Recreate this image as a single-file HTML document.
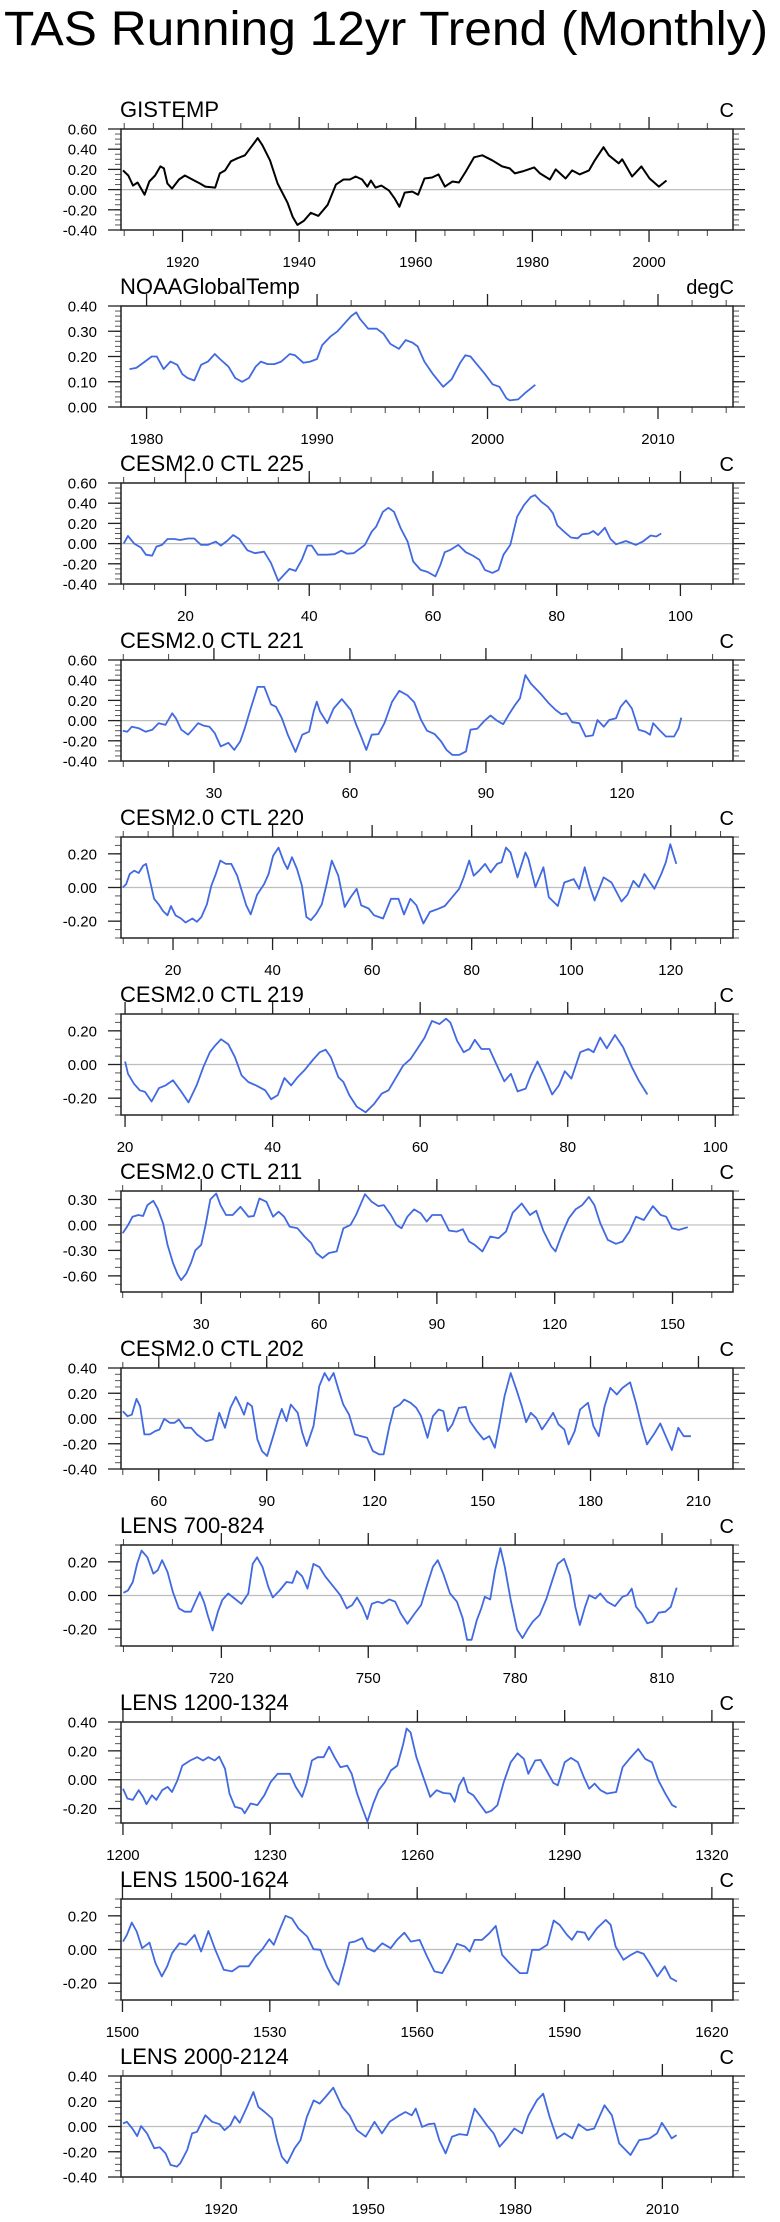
<!DOCTYPE html>
<html><head><meta charset="utf-8">
<style>
html,body{margin:0;padding:0;background:#fff;}
svg{display:block;font-family:"Liberation Sans",Arial,sans-serif;}
</style></head>
<body>
<svg id="chart" width="780" height="2222" viewBox="0 0 780 2222" xmlns="http://www.w3.org/2000/svg">
<text x="4" y="45" font-size="48" textLength="764" lengthAdjust="spacingAndGlyphs" fill="#000">TAS Running 12yr Trend (Monthly)</text>
</svg>
<script>
const p1X=[1909.8,1910.7,1911.5,1912.3,1913.5,1914.3,1915.3,1916.2,1916.8,1917.4,1918.2,1919.4,1920.4,1922.0,1923.0,1923.9,1925.6,1926.4,1927.3,1928.3,1929.4,1930.7,1932.0,1932.9,1933.7,1935.0,1936.3,1938.0,1938.9,1939.7,1940.8,1942.0,1943.3,1944.9,1946.3,1947.6,1948.7,1949.7,1950.8,1951.7,1952.3,1953.1,1954.1,1955.4,1956.4,1957.2,1958.1,1959.4,1960.4,1961.5,1962.8,1963.9,1965.0,1966.3,1967.4,1968.6,1970.0,1971.4,1973.1,1974.8,1976.1,1977.0,1978.3,1980.3,1981.3,1983.0,1984.0,1985.7,1986.8,1988.1,1989.7,1990.7,1992.2,1993.1,1994.8,1995.4,1997.1,1998.7,2000.1,2001.7,2003.0];
const p1Y=[0.19,0.14,0.04,0.07,-0.05,0.08,0.14,0.23,0.21,0.06,0.01,0.10,0.14,0.09,0.06,0.03,0.02,0.16,0.19,0.28,0.31,0.34,0.44,0.51,0.44,0.29,0.06,-0.13,-0.27,-0.35,-0.31,-0.23,-0.26,-0.15,0.05,0.10,0.10,0.13,0.10,0.03,0.09,0.02,0.04,-0.01,-0.09,-0.17,-0.03,-0.02,-0.05,0.11,0.12,0.15,0.03,0.08,0.07,0.18,0.32,0.34,0.29,0.23,0.21,0.16,0.18,0.22,0.16,0.10,0.20,0.11,0.19,0.15,0.19,0.29,0.42,0.34,0.26,0.30,0.13,0.23,0.11,0.03,0.09];
const p2X=[1979.0,1979.4,1979.9,1980.3,1980.6,1981.0,1981.4,1981.8,1982.1,1982.4,1982.8,1983.2,1983.6,1984.0,1984.3,1984.8,1985.2,1985.6,1986.0,1986.4,1986.7,1987.1,1987.5,1987.9,1988.4,1988.7,1989.2,1989.6,1990.0,1990.3,1990.8,1991.2,1991.6,1992.0,1992.3,1992.5,1993.0,1993.5,1993.9,1994.3,1994.8,1995.2,1995.6,1995.9,1996.3,1996.8,1997.4,1997.9,1998.4,1998.7,1999.0,1999.4,1999.8,2000.3,2000.7,2001.1,2001.3,2001.8,2002.2,2002.8];
const p2Y=[0.15,0.155,0.18,0.20,0.20,0.15,0.18,0.167,0.13,0.115,0.105,0.167,0.18,0.21,0.19,0.16,0.115,0.10,0.115,0.16,0.18,0.17,0.17,0.18,0.21,0.205,0.175,0.18,0.19,0.245,0.28,0.30,0.33,0.36,0.375,0.35,0.31,0.31,0.29,0.25,0.23,0.265,0.255,0.24,0.18,0.13,0.08,0.11,0.175,0.205,0.20,0.167,0.135,0.09,0.08,0.035,0.026,0.03,0.055,0.088];
const p3X=[10.0,10.7,11.7,12.8,13.6,14.6,15.3,16.2,17.1,18.2,19.1,20.4,21.4,22.5,23.6,24.9,25.7,26.7,27.7,28.7,30.0,31.2,32.7,33.8,35.0,35.9,36.8,37.8,38.8,39.7,40.4,41.4,42.8,44.1,45.2,46.1,47.2,49.0,50.1,50.8,51.9,52.8,53.7,54.8,55.9,56.8,58.0,59.1,60.4,61.2,61.9,62.8,64.1,65.3,66.4,67.5,68.4,69.6,70.6,71.4,72.5,73.6,74.7,75.8,76.5,77.6,78.6,79.4,80.1,81.2,82.3,83.4,84.1,85.2,85.9,86.7,87.8,88.7,89.6,91.2,92.8,93.9,95.2,96.1,96.9];
const p3Y=[0,0.075,0,-0.04,-0.11,-0.12,-0.03,-0.013,0.046,0.046,0.036,0.05,0.05,-0.013,-0.013,0.02,-0.02,0.026,0.085,0.046,-0.066,-0.095,-0.08,-0.19,-0.37,-0.31,-0.25,-0.27,-0.16,-0.02,-0.02,-0.11,-0.11,-0.105,-0.07,-0.1,-0.095,-0.013,0.118,0.167,0.315,0.354,0.315,0.15,0.02,-0.177,-0.26,-0.28,-0.325,-0.21,-0.085,-0.062,-0.013,-0.085,-0.118,-0.16,-0.26,-0.29,-0.26,-0.11,-0.013,0.265,0.38,0.46,0.48,0.41,0.364,0.3,0.18,0.118,0.06,0.052,0.092,0.1,0.125,0.085,0.157,0.046,-0.007,0.026,-0.013,0.02,0.08,0.07,0.1];
const p4X=[9.9,10.9,11.9,13.4,14.9,16.4,17.8,19.3,20.8,21.6,22.8,24.3,25.3,26.5,27.7,29.0,30.2,31.5,33.2,34.5,35.8,36.8,38.1,39.6,41.1,42.6,43.7,45.0,46.3,48.0,49.5,51.0,52.0,52.7,53.4,55.0,56.4,58.2,60.2,61.4,62.3,63.6,64.8,66.3,67.6,69.3,70.9,72.7,74.2,75.7,77.0,78.7,80.1,81.3,82.6,84.1,85.6,86.6,88.1,89.5,91.0,92.5,93.8,95.0,96.5,97.5,98.7,99.9,101.1,102.4,103.9,105.4,106.7,107.8,109.0,110.6,112.0,113.6,114.6,116.0,117.2,118.7,119.7,120.9,122.2,123.7,125.2,126.2,126.9,128.2,129.7,131.5,132.5,133.1];
const p4Y=[-0.1,-0.11,-0.06,-0.075,-0.11,-0.09,-0.026,-0.043,0.072,0.023,-0.09,-0.14,-0.09,-0.026,-0.05,-0.06,-0.125,-0.255,-0.22,-0.29,-0.206,-0.075,0.12,0.334,0.334,0.16,0.137,0.023,-0.14,-0.31,-0.14,-0.11,0.09,0.187,0.09,-0.026,0.12,0.213,0.105,-0.043,-0.14,-0.29,-0.14,-0.134,-0.026,0.187,0.295,0.25,0.18,0.006,-0.1,-0.134,-0.206,-0.29,-0.34,-0.34,-0.305,-0.09,-0.08,-0.01,0.05,-0.003,-0.036,0.056,0.16,0.22,0.45,0.367,0.31,0.25,0.17,0.105,0.062,0.072,-0.016,-0.026,-0.157,-0.147,0.006,-0.06,0.006,0.023,0.137,0.2,0.12,-0.09,-0.11,-0.14,-0.026,-0.09,-0.157,-0.157,-0.075,0.03];
const p5X=[9.9,10.6,11.3,12.2,13.1,14.0,14.6,15.3,16.2,17.1,18.0,18.9,19.6,20.5,21.6,22.5,23.9,24.8,25.7,26.8,27.7,28.6,29.5,30.6,31.7,32.9,33.8,34.7,35.6,36.9,38.3,39.2,40.1,41.2,42.3,43.0,43.9,44.9,45.9,46.8,47.7,48.8,49.9,50.8,51.9,53.2,54.5,55.7,56.9,57.8,59.3,60.4,62.2,63.8,65.3,66.4,67.7,68.9,70.3,71.6,73.0,74.6,76.1,77.5,78.4,79.5,80.4,81.5,82.7,83.8,85.1,86.0,86.9,87.8,89.2,90.8,91.4,92.8,94.4,95.5,97.3,98.6,100.5,101.6,102.7,103.6,104.7,106.5,108.1,110.1,111.3,112.5,113.6,114.7,116.7,118.1,119.0,119.9,121.1];
const p5Y=[0,0.02,0.08,0.1,0.086,0.13,0.14,0.05,-0.067,-0.1,-0.14,-0.165,-0.11,-0.165,-0.184,-0.208,-0.184,-0.204,-0.175,-0.1,0.01,0.08,0.16,0.14,0.14,0.07,-0.018,-0.106,-0.16,-0.043,0.02,0.08,0.188,0.237,0.15,0.11,0.18,0.11,0.012,-0.175,-0.194,-0.155,-0.1,0.012,0.16,0.07,-0.116,-0.057,-0.008,-0.106,-0.125,-0.165,-0.184,-0.067,-0.067,-0.16,-0.067,-0.106,-0.214,-0.145,-0.13,-0.11,-0.057,-0.008,0.06,0.16,0.07,0.1,0.14,0.09,0.14,0.15,0.237,0.208,0.06,0.208,0.17,0.002,0.12,-0.057,-0.11,0.03,0.05,-0.008,0.12,0.02,-0.077,0.06,0.03,-0.083,-0.043,0.04,0.002,0.08,-0.008,0.08,0.15,0.257,0.14];
const p6X=[20,20.4,21.2,22.0,22.7,23.6,24.6,25.5,26.5,27.6,28.6,29.7,30.6,31.5,32.2,33.0,34.0,34.9,35.8,36.7,37.9,39.0,39.8,40.7,41.6,42.5,43.4,44.3,45.5,46.4,47.2,47.9,48.9,49.6,50.4,51.4,52.6,53.7,54.8,55.7,56.5,57.7,58.7,59.6,60.6,61.6,62.6,63.5,64.1,65.0,65.9,66.7,67.4,68.3,69.4,70.2,71.4,72.3,73.2,74.3,75.0,75.9,76.8,77.9,78.8,79.6,80.5,81.7,82.8,83.5,84.4,85.3,86.4,87.5,88.7,89.6,90.8];
const p6Y=[0.018,-0.055,-0.114,-0.153,-0.163,-0.22,-0.14,-0.124,-0.094,-0.16,-0.225,-0.124,-0.016,0.073,0.112,0.15,0.12,0.043,-0.065,-0.104,-0.127,-0.153,-0.206,-0.182,-0.08,-0.124,-0.075,-0.035,0.03,0.073,0.088,0.043,-0.075,-0.104,-0.182,-0.25,-0.284,-0.237,-0.173,-0.153,-0.094,-0.006,0.033,0.092,0.16,0.259,0.24,0.272,0.249,0.141,0.073,0.092,0.147,0.092,0.092,0.014,-0.1,-0.055,-0.16,-0.143,-0.065,0.018,-0.065,-0.178,-0.124,-0.04,-0.084,0.073,0.092,0.073,0.16,0.096,0.175,0.102,-0.016,-0.094,-0.178];
const p7X=[10.0,11.4,12.5,14.0,15.2,16.3,17.8,18.9,20.3,21.4,22.8,24.0,24.9,26.2,27.4,28.5,30.0,31.1,32.3,33.8,34.9,36.3,38.0,40.0,42.0,43.4,44.8,46.6,48.3,49.7,51.1,52.5,54.5,56.3,58.0,59.3,60.9,62.5,64.5,66.2,68.0,69.4,71.7,73.4,75.1,76.5,78.3,79.7,81.0,82.5,84.2,85.9,87.4,88.8,91.1,93.1,95.1,96.6,98.2,99.6,101.6,103.6,105.7,107.6,109.3,111.6,113.7,115.3,117.1,119.1,120.2,121.9,123.6,125.3,127.0,128.7,130.1,131.6,133.5,135.6,137.3,139.0,140.7,142.7,145.0,147.0,148.4,149.9,151.6,153.9];
const p7Y=[-0.097,0,0.097,0.117,0.105,0.234,0.284,0.195,0.02,-0.234,-0.448,-0.584,-0.65,-0.573,-0.448,-0.3,-0.234,0,0.3,0.37,0.234,0.117,0.117,0.214,0.097,0.105,0.312,0.273,0.097,0.156,0.097,-0.02,-0.039,-0.136,-0.214,-0.331,-0.39,-0.331,-0.312,-0.039,0,0.117,0.362,0.273,0.222,0.234,0.117,0,-0.039,0.097,0.183,0.136,0.039,0.117,0.117,-0.066,-0.078,-0.05,-0.195,-0.234,-0.312,-0.136,-0.156,-0.078,0.144,0.253,0.117,0.168,-0.066,-0.253,-0.312,-0.097,0.078,0.183,0.234,0.331,0.234,0.02,-0.175,-0.222,-0.195,-0.078,0.097,0.058,0.222,0.117,0.097,-0.039,-0.058,-0.027];
const p8X=[50.0,51.3,52.5,53.8,54.8,56.0,57.5,59.0,60.2,61.5,63.1,64.4,65.6,67.2,69.0,70.6,73.1,75.0,76.8,78.4,79.9,81.4,82.7,83.7,84.7,85.9,87.4,88.7,90.1,91.8,93.0,94.2,95.5,96.7,98.6,99.9,101.1,103.0,104.6,106.1,107.3,108.6,109.8,111.3,112.9,114.5,116.3,117.9,119.5,121.3,122.5,124.1,125.4,127.0,128.2,130.0,131.6,132.9,134.7,136.2,137.8,139.1,140.3,141.6,143.4,145.3,146.5,148.4,150.3,151.9,153.4,154.6,156.1,157.8,159.4,160.9,162.1,163.4,164.9,166.5,168.1,169.6,171.1,172.7,173.9,175.6,177.1,179.3,180.8,182.3,183.9,185.5,187.3,188.9,191.0,192.6,194.2,195.7,197.6,199.4,200.9,202.6,204.4,205.9,207.9];
const p8Y=[0.058,0.018,0.03,0.155,0.097,-0.126,-0.126,-0.1,-0.087,-0.003,-0.034,-0.034,-0.008,-0.074,-0.074,-0.126,-0.18,-0.166,0.045,-0.074,0.084,0.171,0.097,0.03,0.124,0.097,-0.166,-0.258,-0.297,-0.14,-0.021,0.076,-0.021,0.11,0.045,-0.113,-0.218,-0.06,0.255,0.36,0.3,0.36,0.242,0.11,0.03,-0.126,-0.14,-0.153,-0.258,-0.284,-0.284,-0.06,0.084,0.11,0.15,0.124,0.084,0.018,-0.153,0.018,0.071,0.058,-0.1,-0.047,0.084,0.092,-0.021,-0.1,-0.166,-0.14,-0.232,-0.06,0.176,0.36,0.229,0.097,-0.029,0.045,0.005,-0.087,-0.021,0.045,-0.047,-0.087,-0.205,-0.1,0.071,0.124,-0.06,-0.14,0.097,0.242,0.19,0.242,0.287,0.124,-0.06,-0.205,-0.126,-0.04,-0.14,-0.25,-0.074,-0.14,-0.14];
const p9X=[700.0,700.9,701.9,702.8,703.7,704.9,706.1,707.0,707.9,709.0,710.1,711.3,712.5,713.8,714.7,715.6,716.5,717.3,718.2,719.3,720.2,721.4,722.7,724.1,725.5,726.4,727.3,728.4,729.6,730.5,731.9,733.3,734.5,735.4,736.5,737.6,738.8,740.0,741.2,742.7,744.3,745.6,746.7,747.7,748.8,749.8,750.7,751.9,753.0,754.3,755.5,756.6,758.0,759.4,760.8,762.1,763.2,764.2,765.3,766.7,768.1,769.3,770.2,771.1,772.2,773.1,773.8,774.9,775.9,777.0,777.9,779.1,780.4,781.5,782.7,783.6,785.0,786.4,787.6,788.7,790.0,791.2,792.3,793.2,794.3,795.1,796.4,797.4,798.8,800.4,801.9,802.9,803.8,804.7,805.9,807.0,808.1,809.3,810.7,811.8,813.0];
const p9Y=[0.016,0.03,0.08,0.19,0.267,0.227,0.13,0.15,0.21,0.14,0.02,-0.076,-0.096,-0.096,-0.037,0.02,-0.043,-0.125,-0.208,-0.096,-0.027,0.012,-0.018,-0.05,0.012,0.188,0.227,0.17,0.05,-0.012,0.03,0.08,0.075,0.145,0.114,0.041,0.188,0.17,0.114,0.06,0.002,-0.076,-0.057,-0.012,-0.067,-0.14,-0.05,-0.037,-0.047,-0.023,-0.037,-0.106,-0.168,-0.11,-0.057,0.07,0.17,0.21,0.13,0.012,-0.037,-0.135,-0.263,-0.263,-0.145,-0.076,-0.008,-0.023,0.15,0.282,0.17,-0.027,-0.204,-0.253,-0.194,-0.155,-0.116,-0.018,0.09,0.188,0.218,0.12,-0.067,-0.175,-0.067,0.002,-0.018,0.012,-0.037,-0.063,-0.008,0.002,0.041,-0.067,-0.11,-0.165,-0.155,-0.102,-0.096,-0.067,0.047];
const p10X=[1200,1200.9,1202.0,1203.2,1204.1,1204.8,1205.9,1206.8,1208.0,1209.1,1210.0,1211.1,1212.1,1213.7,1215.1,1216.3,1217.4,1218.7,1219.6,1220.8,1221.7,1222.8,1224.2,1224.8,1226.0,1227.4,1228.8,1230.1,1231.5,1232.9,1234.0,1235.2,1236.5,1237.4,1238.5,1239.7,1240.9,1242.0,1243.1,1244.3,1245.7,1246.6,1247.7,1248.9,1249.8,1251.0,1252.1,1253.4,1254.6,1255.9,1257.1,1257.8,1258.6,1259.8,1261.2,1262.6,1263.9,1265.3,1266.7,1267.6,1268.5,1269.4,1270.3,1271.4,1272.6,1274.0,1275.1,1276.3,1277.6,1279.0,1280.4,1281.7,1282.6,1284.0,1285.1,1286.3,1287.7,1288.6,1290.0,1291.3,1292.7,1293.9,1295.0,1296.1,1297.3,1298.6,1300.5,1301.8,1303.2,1305.0,1306.4,1307.8,1309.1,1310.5,1311.9,1312.8];
const p10Y=[-0.062,-0.13,-0.14,-0.073,-0.119,-0.17,-0.108,-0.14,-0.073,-0.05,-0.085,-0.005,0.098,0.133,0.156,0.133,0.156,0.133,0.16,0.076,-0.096,-0.188,-0.2,-0.233,-0.165,-0.176,-0.108,-0.016,0.041,0.041,0.041,-0.05,-0.119,-0.027,0.133,0.156,0.156,0.229,0.156,0.087,0.098,0.041,-0.096,-0.21,-0.29,-0.165,-0.073,-0.016,0.064,0.098,0.247,0.355,0.327,0.156,0.018,-0.119,-0.073,-0.092,-0.096,-0.153,-0.039,0.014,-0.085,-0.108,-0.165,-0.229,-0.215,-0.176,-0.016,0.121,0.183,0.144,0.041,0.133,0.137,0.064,-0.023,-0.039,0.121,0.151,0.121,0.018,-0.062,-0.027,-0.073,-0.096,-0.085,0.087,0.144,0.213,0.144,0.121,-0.005,-0.096,-0.176,-0.192];
const p11X=[1500.1,1500.9,1501.9,1502.9,1504.0,1505.5,1506.7,1508.0,1509.1,1510.1,1511.6,1512.9,1514.7,1516.0,1517.5,1518.9,1520.6,1522.3,1523.8,1525.7,1527.1,1528.4,1529.9,1530.8,1532.0,1533.2,1534.5,1535.8,1537.6,1538.9,1540.3,1541.6,1543.0,1544.0,1545.2,1546.2,1547.3,1548.8,1549.8,1551.3,1552.9,1554.6,1555.9,1557.4,1558.7,1560.5,1562.0,1563.5,1565.1,1566.6,1568.1,1569.7,1570.7,1571.7,1573.2,1574.7,1576.0,1577.3,1578.8,1580.9,1582.4,1583.4,1584.9,1586.5,1587.8,1589.0,1590.5,1591.5,1592.6,1594.1,1594.9,1596.6,1598.4,1599.4,1600.4,1602.0,1603.5,1604.8,1606.1,1607.3,1608.9,1610.4,1611.6,1612.9];
const p11Y=[0.047,0.087,0.16,0.107,0.008,0.041,-0.08,-0.16,-0.1,-0.022,0.037,0.028,0.087,-0.012,0.11,-0.002,-0.12,-0.13,-0.1,-0.1,-0.041,-0.002,0.061,0.028,0.116,0.2,0.185,0.126,0.077,0.002,-0.002,-0.1,-0.18,-0.209,-0.08,0.041,0.047,0.067,0.008,-0.012,0.037,0.008,0.057,0.1,0.047,0.057,-0.041,-0.13,-0.14,-0.061,0.034,0.018,-0.012,0.057,0.057,0.097,0.14,-0.032,-0.08,-0.14,-0.14,-0.002,-0.002,0.028,0.172,0.146,0.087,0.057,0.107,0.1,0.057,0.126,0.176,0.146,0.018,-0.061,-0.032,-0.012,-0.026,-0.08,-0.16,-0.1,-0.17,-0.19];
const p12X=[1900.0,1900.8,1901.9,1902.9,1903.7,1904.9,1906.4,1907.5,1908.7,1909.7,1911.0,1911.7,1913.1,1914.1,1915.1,1916.8,1918.2,1919.7,1920.7,1921.9,1922.8,1923.8,1925.3,1926.6,1927.6,1928.9,1930.4,1931.4,1932.4,1933.5,1935.0,1936.2,1937.5,1938.9,1940.1,1941.3,1942.9,1944.7,1946.2,1947.7,1949.5,1951.3,1952.8,1954.4,1956.4,1957.6,1958.9,1959.7,1961.0,1962.3,1963.5,1964.5,1965.8,1967.1,1968.6,1970.2,1971.7,1973.0,1974.2,1975.6,1976.8,1978.3,1979.8,1981.4,1982.7,1984.4,1985.7,1987.0,1988.5,1990.0,1991.6,1992.9,1994.6,1996.1,1998.2,1999.7,2001.2,2003.5,2005.3,2007.4,2008.9,2009.9,2010.9,2011.9,2012.9];
const p12Y=[0.024,0.037,-0.016,-0.076,0.003,-0.055,-0.173,-0.165,-0.213,-0.304,-0.318,-0.291,-0.186,-0.055,-0.042,0.089,0.037,0.018,-0.029,0.01,0.081,0.029,0.155,0.273,0.155,0.115,0.063,-0.108,-0.239,-0.291,-0.173,-0.108,0.076,0.207,0.181,0.234,0.307,0.155,0.089,-0.029,-0.081,0.037,-0.055,0.037,0.089,0.115,0.089,0.142,-0.003,0.018,0.024,-0.108,-0.213,-0.081,-0.06,-0.068,0.142,0.076,0.01,-0.055,-0.16,-0.094,-0.016,-0.055,0.089,0.207,0.26,0.076,-0.094,-0.055,-0.094,0.018,-0.029,-0.016,0.168,0.089,-0.134,-0.226,-0.108,-0.094,-0.055,0.029,-0.029,-0.094,-0.068];

const panelTitles=["GISTEMP","NOAAGlobalTemp","CESM2.0 CTL 225","CESM2.0 CTL 221","CESM2.0 CTL 220","CESM2.0 CTL 219","CESM2.0 CTL 211","CESM2.0 CTL 202","LENS 700-824","LENS 1200-1324","LENS 1500-1624","LENS 2000-2124"];
const panelUnits=["C","degC","C","C","C","C","C","C","C","C","C","C"];
const seriesX=[p1X,p2X,p3X,p4X,p5X,p6X,p7X,p8X,p9X,p10X,p11X,p12X];
const seriesY=[p1Y,p2Y,p3Y,p4Y,p5Y,p6Y,p7Y,p8Y,p9Y,p10Y,p11Y,p12Y];
// axis configs: [xmin,xmax,xMajorStart,xMajorStep,xMinorStep, ymin,ymax,yMajorStart,yMajorStep,yMinorStep]
const axes=[
 [1909.45,2014.4,1920,20,5,-0.4,0.6,-0.4,0.2,0.05],
 [1978.5,2014.4,1980,10,2,0,0.4,0,0.1,0.02],
 [9.57,108.5,20,20,5,-0.4,0.6,-0.4,0.2,0.05],
 [9.5,144.5,30,30,10,-0.4,0.6,-0.4,0.2,0.05],
 [9.55,132.5,20,20,5,-0.3,0.3,-0.2,0.2,0.05],
 [19.45,102.4,20,20,5,-0.3,0.3,-0.2,0.2,0.05],
 [9.57,165.4,30,30,10,-0.79,0.4,-0.6,0.3,0.1],
 [49.5,219.6,60,30,10,-0.4,0.4,-0.4,0.2,0.05],
 [699.5,824.5,720,30,10,-0.3,0.3,-0.2,0.2,0.05],
 [1199.6,1324.3,1200,30,10,-0.3,0.4,-0.2,0.2,0.05],
 [1499.7,1624.3,1500,30,10,-0.3,0.3,-0.2,0.2,0.05],
 [1899.6,2024.4,1920,30,10,-0.4,0.4,-0.4,0.2,0.05]
];
const NS="http://www.w3.org/2000/svg";
const svg=document.getElementById('chart');
const L=121,R=733,TOP0=129,GAP=177,H=101;
function mk(tag,attrs,parent){const e=document.createElementNS(NS,tag);for(const k in attrs)e.setAttribute(k,attrs[k]);parent.appendChild(e);return e;}
function ticks(start,max,step){const out=[];for(let v=start;v<=max+1e-9;v+=step)out.push(Math.round(v*1e6)/1e6);return out;}
for(let i=0;i<12;i++){
  const a=axes[i];const top=TOP0+i*GAP,bot=top+H;
  const sx=v=>L+(v-a[0])/(a[1]-a[0])*(R-L);
  const sy=v=>bot-(v-a[5])/(a[6]-a[5])*H;
  const g=mk('g',{},svg);
  
  
  const t=mk('text',{x:L-1,y:top-12,'font-size':22,fill:'#000'},g);t.textContent=panelTitles[i];
  
  
  const u=mk('text',{x:R+1,y:top-12,'font-size':20,fill:'#000','text-anchor':'end'},g);u.textContent=panelUnits[i];
  
  
  // zero line
  if(a[5]<0&&a[6]>0){const z=mk('line',{x1:L,x2:R,y1:sy(0),y2:sy(0),stroke:'#bdbdbd','stroke-width':1.2},g);
    
    }
  // x minor ticks
  const xmin0=Math.ceil((a[0]-1e-9)/a[4])*a[4];
  ticks(xmin0,a[1],a[4]).forEach(v=>{const x=sx(v);
    mk('line',{x1:x,x2:x,y1:bot,y2:bot+6,stroke:'#444','stroke-width':1},g);
    mk('line',{x1:x,x2:x,y1:top,y2:top-6,stroke:'#444','stroke-width':1},g);});
  ticks(a[2],a[1],a[3]).forEach(v=>{const x=sx(v);
    mk('line',{x1:x,x2:x,y1:bot,y2:bot+12,stroke:'#222','stroke-width':1.3},g);
    mk('line',{x1:x,x2:x,y1:top,y2:top-12,stroke:'#222','stroke-width':1.3},g);
    const lb=mk('text',{x:x,y:bot+37,'font-size':15,'text-anchor':'middle',fill:'#000'},g);
    lb.textContent=String(v);
    
    });
  const ymin0=Math.ceil((a[5]-1e-9)/a[9])*a[9];
  ticks(ymin0,a[6],a[9]).forEach(v=>{const y=sy(v);
    mk('line',{x1:L,x2:L-6,y1:y,y2:y,stroke:'#555','stroke-width':1},g);
    mk('line',{x1:R,x2:R+6,y1:y,y2:y,stroke:'#555','stroke-width':1},g);});
  ticks(a[7],a[6],a[8]).forEach(v=>{const y=sy(v);
    mk('line',{x1:L,x2:L-13,y1:y,y2:y,stroke:'#222','stroke-width':1.3},g);
    mk('line',{x1:R,x2:R+12,y1:y,y2:y,stroke:'#222','stroke-width':1.3},g);
    const lb=mk('text',{x:97,y:y+5.5,'font-size':15,'text-anchor':'end',fill:'#000'},g);
    lb.textContent=v.toFixed(2);
    
    });
  const box=mk('rect',{x:L,y:top,width:R-L,height:H,fill:'none',stroke:'#222','stroke-width':1.5},g);
  
  
  const xs=seriesX[i],ys=seriesY[i];
  let d='';for(let k=0;k<xs.length;k++){d+=(k?'L':'M')+sx(xs[k]).toFixed(1)+','+sy(ys[k]).toFixed(1);}
  const p=mk('path',{d:d,fill:'none',stroke:i===0?'#000':'#4169e1','stroke-width':i===0?2:1.8,'stroke-linejoin':'round'},g);
  
  
}
</script>
</body></html>
